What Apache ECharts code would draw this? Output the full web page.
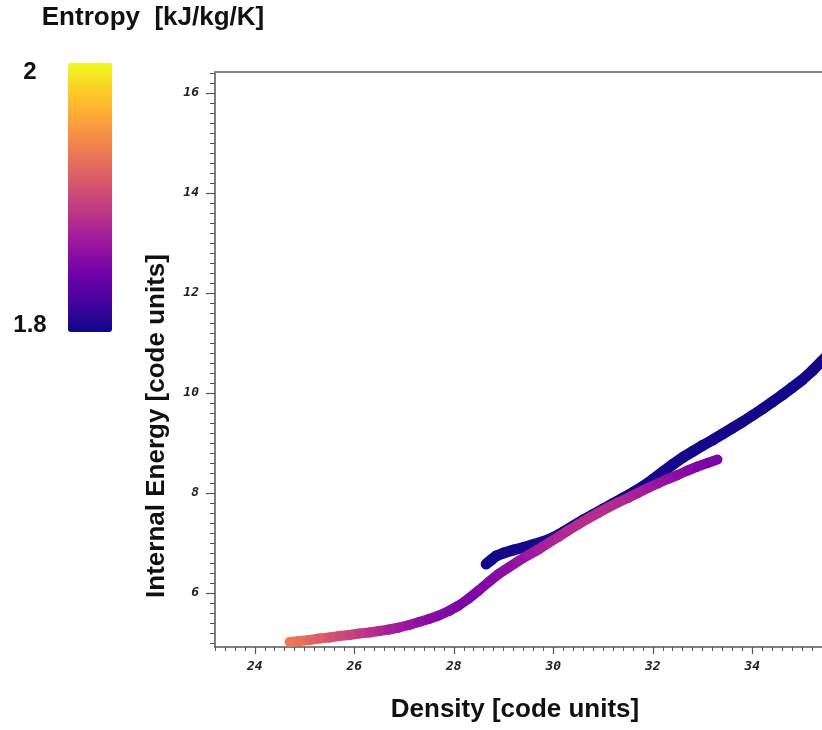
<!DOCTYPE html>
<html>
<head>
<meta charset="utf-8">
<script src="https://cdn.jsdelivr.net/npm/echarts@6/dist/echarts.min.js"></script>
<style>
html,body{margin:0;padding:0;background:#fff;}
#chart{width:822px;height:730px;}
</style>
</head>
<body>
<div id="chart"></div>
<script>
// ---- data ----
const lowerDensity = [24.7,24.9,25.1,25.3,25.5,25.7,25.9,26.1,26.3,26.5,26.7,26.9,27.1,27.3,27.5,27.7,27.9,28.1,28.3,28.5,28.7,28.9,29.1,29.3,29.5,29.7,29.9,30.1,30.3,30.5,30.7,30.9,31.1,31.3,31.5,31.7,31.9,32.1,32.3,32.5,32.7,32.9,33.1,33.3];
const lowerEnergy  = [5.02,5.04,5.06,5.09,5.11,5.14,5.16,5.19,5.21,5.24,5.27,5.31,5.36,5.42,5.48,5.55,5.64,5.75,5.89,6.05,6.22,6.38,6.51,6.64,6.76,6.87,7.00,7.12,7.25,7.37,7.49,7.60,7.71,7.81,7.90,8.00,8.10,8.19,8.28,8.36,8.45,8.53,8.60,8.67];
const lowerEntropy = [1.935,1.930,1.925,1.918,1.912,1.905,1.900,1.895,1.888,1.882,1.876,1.870,1.866,1.862,1.858,1.855,1.853,1.851,1.850,1.851,1.853,1.856,1.859,1.862,1.866,1.870,1.874,1.877,1.880,1.882,1.883,1.883,1.882,1.880,1.877,1.874,1.870,1.866,1.862,1.858,1.855,1.852,1.850,1.848];

const upperDensity = [28.65,28.75,28.85,29.0,29.2,29.4,29.6,29.8,30.0,30.2,30.4,30.6,30.8,31.0,31.2,31.4,31.6,31.8,32.0,32.2,32.4,32.6,32.8,33.0,33.2,33.4,33.6,33.8,34.0,34.2,34.4,34.6,34.8,35.0,35.2,35.4,35.55];
const upperEnergy  = [6.58,6.66,6.74,6.80,6.86,6.91,6.97,7.03,7.11,7.22,7.34,7.46,7.57,7.68,7.79,7.90,8.01,8.13,8.27,8.42,8.57,8.71,8.83,8.95,9.06,9.18,9.30,9.42,9.55,9.68,9.82,9.96,10.11,10.26,10.44,10.64,10.80];
const upperEntropy = [1.803,1.803,1.803,1.803,1.804,1.804,1.804,1.805,1.805,1.805,1.805,1.804,1.804,1.804,1.803,1.803,1.803,1.803,1.803,1.803,1.803,1.803,1.803,1.803,1.803,1.803,1.803,1.803,1.803,1.803,1.803,1.803,1.803,1.803,1.803,1.803,1.803];

const xTicks = [24,26,28,30,32,34];
const yTicks = [6,8,10,12,14,16];
const entropyRange = [1.8, 2];
const entropyLabels = ['2','1.8'];
const plasma = ['#0d0887','#46039f','#7201a8','#9c179e','#bd3786','#d8576b','#ed7953','#fb9f3a','#fdca26','#f0f921'];

// ---- build segments (consecutive pairs) ----
function segments(xs, ys, ss){
  const out = [];
  for (let i = 0; i < xs.length - 1; i++) {
    out.push([xs[i], ys[i], (ss[i]+ss[i+1])/2, xs[i+1], ys[i+1]]);
  }
  return out;
}
const upperSeg = segments(upperDensity, upperEnergy, upperEntropy);
const lowerSeg = segments(lowerDensity, lowerEnergy, lowerEntropy);

function minorVals(a, b){
  const v = [];
  for (let k = Math.round(a*5); k <= Math.round(b*5); k++) v.push(+(k/5).toFixed(1));
  return v;
}

const X_MIN = 23.2, X_MAX = 35.4, Y_MIN = 4.92, Y_MAX = 16.42;
const tickFont = {fontFamily:'DejaVu Sans Mono', fontStyle:'italic', fontWeight:'bold', fontSize:13, color:'#222'};
const titleFont = 'bold 26px "Liberation Sans", Arial, sans-serif';

function bandItem(width){
  return function(params, api){
    const p1 = api.coord([api.value(0), api.value(1)]);
    const p2 = api.coord([api.value(3), api.value(4)]);
    return {
      type:'line',
      shape:{x1:p1[0], y1:p1[1], x2:p2[0], y2:p2[1]},
      style:{stroke: api.visual('color'), lineWidth: width, lineCap:'round'}
    };
  };
}

const chart = echarts.init(document.getElementById('chart'), null, {renderer:'canvas'});
chart.setOption({
  animation:false,
  backgroundColor:'#fff',
  grid:{left:215, right:0, top:72, bottom:83, containLabel:false},
  xAxis:[
    {type:'value', min:X_MIN, max:X_MAX, position:'bottom',
     axisLine:{lineStyle:{color:'#555', width:1.5}},
     axisTick:{show:true, length:7, inside:false, customValues:xTicks, lineStyle:{color:'#555', width:1.2}},
     axisLabel:{customValues:xTicks, margin:13, ...tickFont},
     splitLine:{show:false}},
    {type:'value', min:X_MIN, max:X_MAX, position:'bottom',
     axisLine:{show:false},
     axisTick:{show:true, length:4, customValues:minorVals(23.2,35.4), lineStyle:{color:'#555', width:1}},
     axisLabel:{show:false}, splitLine:{show:false}},
    {type:'value', min:X_MIN, max:X_MAX, position:'top',
     axisLine:{show:true, lineStyle:{color:'#888', width:2}},
     axisTick:{show:false}, axisLabel:{show:false}, splitLine:{show:false}}
  ],
  yAxis:[
    {type:'value', min:Y_MIN, max:Y_MAX, position:'left',
     axisLine:{lineStyle:{color:'#555', width:1.5}},
     axisTick:{show:true, length:9, customValues:yTicks, lineStyle:{color:'#555', width:1.2}},
     axisLabel:{customValues:yTicks, margin:16, ...tickFont},
     splitLine:{show:false}},
    {type:'value', min:Y_MIN, max:Y_MAX, position:'left',
     axisLine:{show:false},
     axisTick:{show:true, length:5, customValues:minorVals(5.0,16.4), lineStyle:{color:'#555', width:1}},
     axisLabel:{show:false}, splitLine:{show:false}}
  ],
  visualMap:{
    type:'continuous', min:entropyRange[0], max:entropyRange[1], dimension:2,
    seriesIndex:[0,1],
    left:68, top:63, itemWidth:44, itemHeight:269, padding:0,
    text:null, showLabel:false, calculable:false, hoverLink:false, realtime:false,
    inRange:{color:plasma}
  },
  graphic:[
    {type:'text', style:{text:'Entropy  [kJ/kg/K]', x:153, y:18, textAlign:'center', textVerticalAlign:'middle', font:titleFont, fill:'#111'}},
    {type:'text', style:{text:entropyLabels[0], x:30, y:72, textAlign:'center', textVerticalAlign:'middle', font:'bold 24px "Liberation Sans", Arial, sans-serif', fill:'#111'}},
    {type:'text', style:{text:entropyLabels[1], x:30, y:325, textAlign:'center', textVerticalAlign:'middle', font:'bold 24px "Liberation Sans", Arial, sans-serif', fill:'#111'}},
    {type:'text', x:157, y:426, rotation:Math.PI/2, style:{text:'Internal Energy [code units]', x:0, y:0, textAlign:'center', textVerticalAlign:'middle', font:titleFont, fill:'#111'}},
    {type:'text', style:{text:'Density [code units]', x:515, y:710, textAlign:'center', textVerticalAlign:'middle', font:titleFont, fill:'#111'}}
  ],
  series:[
    {type:'custom', xAxisIndex:0, yAxisIndex:0, data:upperSeg, encode:{x:[0,3], y:[1,4]}, renderItem:bandItem(11), clip:true, silent:true},
    {type:'custom', xAxisIndex:0, yAxisIndex:0, data:lowerSeg, encode:{x:[0,3], y:[1,4]}, renderItem:bandItem(10), clip:true, silent:true}
  ]
});
</script>
</body>
</html>
